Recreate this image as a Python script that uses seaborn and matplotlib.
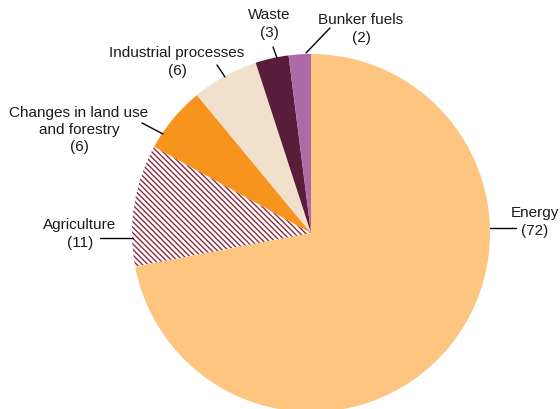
import matplotlib.pyplot as plt
import seaborn as sns

# Greenhouse gas emissions by source (percent)
sources = ['Energy', 'Agriculture', 'Changes in land use\nand forestry',
           'Industrial processes', 'Waste', 'Bunker fuels']
shares = [72, 11, 6, 6, 3, 2]
colors = ['#FDC57F', '#FFFFFF', '#F7941D', '#F0E0CC', '#591C3A', '#AE6BAA']

sns.set_theme(style="white")
plt.rcParams['font.family'] = ['Liberation Sans', 'DejaVu Sans']
plt.rcParams['hatch.linewidth'] = 1.0

fig = plt.figure(figsize=(5.6, 4.09), dpi=100)
ax = fig.add_axes([0, 0, 1, 1])

# pie laid out in pixel space (y measured from bottom)
H = 409
wedges, _ = ax.pie(shares, colors=colors, startangle=90, counterclock=False,
                   center=(311, H - 233), radius=179,
                   wedgeprops=dict(linewidth=0))
wedges[1].set_hatch('\\\\\\\\\\\\')
wedges[1].set_edgecolor('#8B2A3A')
wedges[1].set_linewidth(0)

ax.set_xlim(0, 560)
ax.set_ylim(0, H)
ax.set_aspect('equal')
ax.axis('off')

# labels: (text block centre x, centre y, leader line start, leader line end)
labels = [
    (535, 222, (490, 228), (516, 228)),
    (80, 234, (133, 238), (100, 238)),
    (79, 130, (163, 134), (142, 123)),
    (177, 62, (225, 77), (217, 65)),
    (269, 24, (277, 58), (273, 47)),
    (361, 29, (306, 53), (330, 28)),
]
for name, val, (tx, ty, p0, p1) in zip(sources, shares, labels):
    ax.text(tx, H - ty, f"{name}\n({val})", ha='center', va='center',
            fontsize=11, color='#1a1a1a', linespacing=1.3)
    ax.plot([p0[0], p1[0]], [H - p0[1], H - p1[1]], color='black', lw=1)

fig.savefig('out.png', dpi=100)
